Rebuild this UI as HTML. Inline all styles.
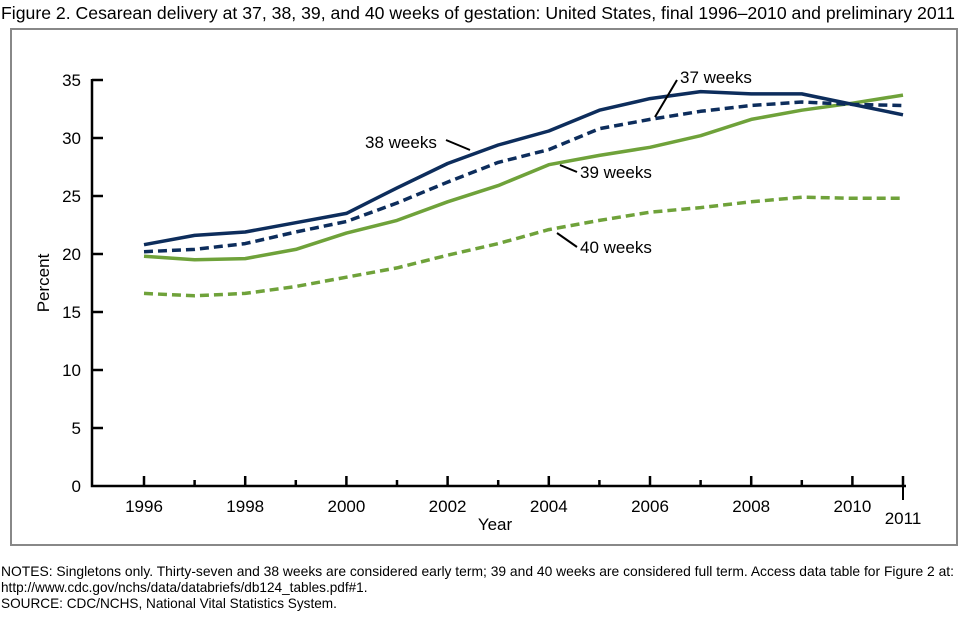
<!DOCTYPE html>
<html><head><meta charset="utf-8"><style>
body{margin:0;background:#fff;width:960px;height:615px;overflow:hidden;font-family:"Liberation Sans",Arial,sans-serif}
svg text{font-family:"Liberation Sans",Arial,sans-serif}
</style></head><body>
<svg id="s" width="960" height="615" xmlns="http://www.w3.org/2000/svg">
<text x="1" y="19" font-size="17.6" fill="#000" textLength="954" lengthAdjust="spacingAndGlyphs">Figure 2. Cesarean delivery at 37, 38, 39, and 40 weeks of gestation: United States, final 1996–2010 and preliminary 2011</text>
<rect x="11" y="29" width="946" height="516" fill="none" stroke="#888" stroke-width="2"/>
<g id="ax" stroke="#000" stroke-width="2.5" fill="none"></g>
<g id="lab" font-size="17" fill="#000"></g>
<g id="ser" fill="none"></g>
<text transform="translate(49,283) rotate(-90)" text-anchor="middle" font-size="17">Percent</text>
<text x="495" y="530" text-anchor="middle" font-size="17">Year</text>
<g font-size="17">
<text x="365" y="148">38 weeks</text>
<text x="680" y="83">37 weeks</text>
<text x="580" y="178">39 weeks</text>
<text x="580" y="253">40 weeks</text>
</g>
<g stroke="#000" stroke-width="2">
<line x1="446" y1="140" x2="470" y2="150"/>
<line x1="677" y1="80" x2="655" y2="117"/>
<line x1="577" y1="172" x2="560" y2="165"/>
<line x1="577" y1="247" x2="557" y2="233"/>
</g>
<g font-size="13.6">
<text x="1" y="576" textLength="953" lengthAdjust="spacingAndGlyphs">NOTES: Singletons only. Thirty-seven and 38 weeks are considered early term; 39 and 40 weeks are considered full term. Access data table for Figure 2 at:</text>
<text x="1" y="592">http://www.cdc.gov/nchs/data/databriefs/db124_tables.pdf#1.</text>
<text x="1" y="608">SOURCE: CDC/NCHS, National Vital Statistics System.</text>
</g>
</svg>
<script>
var NS="http://www.w3.org/2000/svg";
function X(i){return 144+i*50.6}function Y(v){return 486-v*11.6}
function el(p,t,a,txt){var e=document.createElementNS(NS,t);for(var k in a)e.setAttribute(k,a[k]);if(txt!==undefined)e.textContent=String(txt);document.getElementById(p).appendChild(e);}
el("ax","path",{d:"M92,79 V486 H906"});
for(var v=0;v<=35;v+=5){if(v>0)el("ax","line",{x1:92,y1:Y(v),x2:103,y2:Y(v)});el("lab","text",{x:81,y:Y(v)+6,"text-anchor":"end"},v);}
for(var i=0;i<16;i++){var x=X(i);el("ax","line",{x1:x,y1:486,x2:x,y2:i%2==0||i==15?476:480});}
for(var i=0;i<16;i+=2)el("lab","text",{x:X(i),y:512,"text-anchor":"middle"},1996+i);
el("lab","text",{x:X(15),y:524,"text-anchor":"middle"},"2011");
el("ax","line",{x1:X(15),y1:486,x2:X(15),y2:500,"stroke-width":2});
var D=[
[[16.6,16.4,16.6,17.2,18.0,18.8,19.9,20.9,22.1,22.9,23.6,24.0,24.5,24.9,24.8,24.8],"#6fa23a",true],
[[19.8,19.5,19.6,20.4,21.8,22.9,24.5,25.9,27.7,28.5,29.2,30.2,31.6,32.4,33.0,33.7],"#6fa23a",false],
[[20.2,20.4,20.9,21.9,22.8,24.4,26.2,27.9,29.0,30.8,31.6,32.3,32.8,33.1,32.9,32.8],"#0d2d5c",true],
[[20.8,21.6,21.9,22.7,23.5,25.7,27.8,29.4,30.6,32.4,33.4,34.0,33.8,33.8,32.9,32.0],"#0d2d5c",false]];
D.forEach(function(s){var d=s[0].map(function(v,i){return(i?"L":"M")+X(i).toFixed(1)+","+Y(v).toFixed(1)}).join("");
var a={d:d,stroke:s[1],"stroke-width":3.5,"stroke-linejoin":"round"};if(s[2])a["stroke-dasharray"]="9,5";el("ser","path",a);});
</script>
</body></html>
